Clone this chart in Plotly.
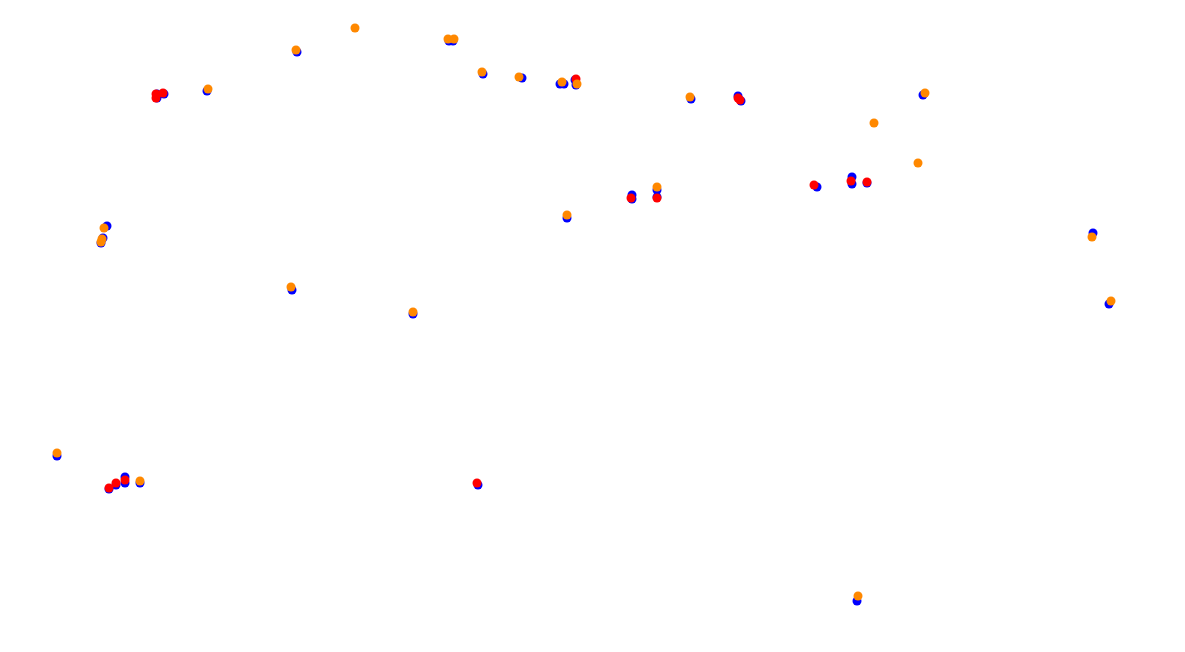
import plotly.graph_objects as go

# Blue series (drawn first, underneath)
blue_x = [157, 157, 164, 207, 297, 449, 453, 483, 522, 560, 564, 575, 576, 691, 738, 741,
          632, 632, 657, 657, 817, 852, 852, 867, 57, 109, 116, 125, 125, 140,
          107, 103, 101, 1093, 1109, 478, 857, 292, 413, 923, 567]
blue_y = [94, 98, 94, 91, 52, 41, 41, 74, 78, 84, 84, 80, 85, 99, 96, 101,
          195, 199, 190, 197, 187, 177, 184, 183, 456, 489, 485, 477, 483, 483,
          226, 238, 243, 233, 304, 485, 601, 290, 314, 95, 218]

# Red series
red_x = [156, 156, 163, 576, 738, 740, 631, 657, 814, 851, 867, 109, 116, 125, 477]
red_y = [94, 98, 93, 79, 98, 100, 198, 198, 185, 181, 182, 488, 483, 480, 483]

# Orange series (drawn on top)
orange_x = [208, 296, 355, 448, 454, 482, 519, 562, 577, 690, 657, 567, 57, 140,
            104, 102, 101, 1092, 1111, 858, 291, 413, 925, 874, 918]
orange_y = [89, 50, 28, 39, 39, 72, 77, 82, 84, 97, 187, 215, 453, 481,
            228, 239, 242, 237, 301, 596, 287, 312, 93, 123, 163]

fig = go.Figure()
for xs, ys, col in [(blue_x, blue_y, "#0000ff"), (red_x, red_y, "#ff0000"), (orange_x, orange_y, "#ff8800")]:
    fig.add_trace(go.Scatter(x=xs, y=ys, mode="markers",
                             marker=dict(color=col, size=9, line=dict(width=0))))

fig.update_layout(
    width=1185, height=652,
    margin=dict(l=0, r=0, t=0, b=0),
    paper_bgcolor="white", plot_bgcolor="white",
    showlegend=False,
    xaxis=dict(range=[8, 1193], visible=False),
    yaxis=dict(range=[660, 8], visible=False),
)
fig.write_html("out.html")
